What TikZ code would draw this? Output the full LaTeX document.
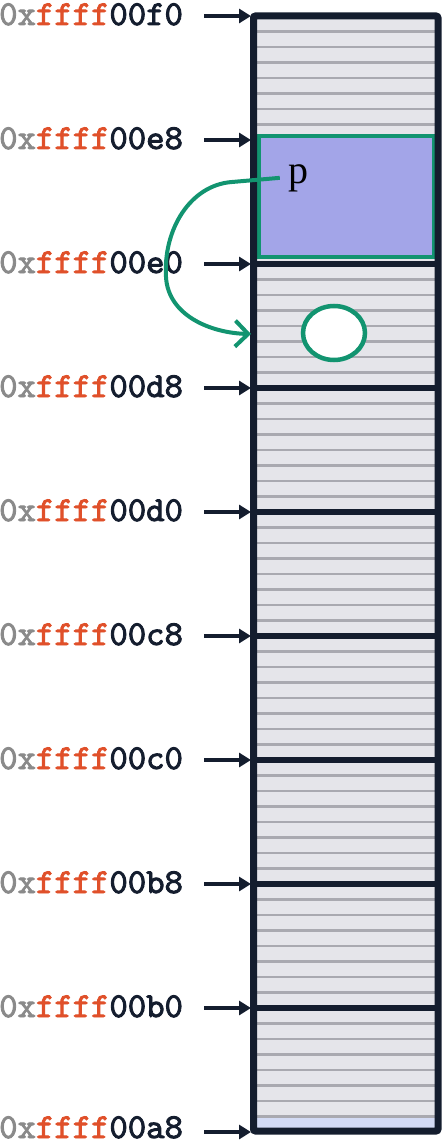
\documentclass[tikz,border=0pt]{standalone}
\usepackage{fontspec}
\setmainfont{Liberation Serif}
\newfontfamily\addrfont{lmmono10-regular.otf}[FakeBold=2.5]
\usetikzlibrary{arrows.meta,shapes.geometric}
\definecolor{navy}{HTML}{141D2E}
\definecolor{rowfill}{HTML}{E5E5EA}
\definecolor{rowline}{HTML}{A9A9B0}
\definecolor{grn}{HTML}{129470}
\definecolor{purp}{HTML}{A3A5E8}
\definecolor{lblue}{HTML}{D3DBF5}
\definecolor{hexgray}{HTML}{8A8A8A}
\definecolor{hexred}{HTML}{E0502A}
\tikzset{
  addr/.style={inner sep=0pt, text=navy, font=\addrfont\fontsize{35pt}{35pt}\selectfont},
  addrarrow/.style={navy, line width=4pt, -{Triangle[length=12pt,width=14pt]}},
  rowsep/.style={rowline, line width=2.5pt},
  wordsep/.style={navy, line width=6pt},
  greenline/.style={grn, line width=4pt},
}
\begin{document}
\begin{tikzpicture}[x=1pt,y=-1pt]
\useasboundingbox (0,0) rectangle (446,1142);
% memory column
\fill[rowfill] (254,16) rectangle (438,1131);
\fill[lblue] (254,1116.5) rectangle (438,1131);
\foreach \k in {1,...,71}{
  \pgfmathtruncatemacro\m{mod(\k,8)}
  \ifnum\m>0
    \draw[rowsep] (256,16+15.5*\k) -- (436,16+15.5*\k);
  \fi
}
\foreach \k in {1,...,8}{
  \draw[wordsep] (254,16+124*\k) -- (438,16+124*\k);
}
% highlighted word
\draw[greenline, fill=purp] (259,136) rectangle (434,256.5);
% outer border
\draw[navy, line width=7pt, rounded corners=2pt] (253.5,16) rectangle (438,1131);
% address labels
\foreach \s/\dy [count=\i from 0] in {f0/9,e8/9,e0/9,d8/9,d0/9,c8/9,c0/9,b8/9,b0/9,a8/6}{
  \pgfmathsetmacro\yy{16+124*\i}
  \node[addr, anchor=base west] (l\i) at (-1,\yy+\dy) {\textcolor{hexgray}{0x}\textcolor{hexred}{ffff}00\s};
  \coordinate (b\i) at (251,\yy);
  \draw[addrarrow] (204,\yy) -- (b\i);
}
% pointer
\node[inner sep=0pt, anchor=base, font=\fontsize{40pt}{40pt}\selectfont] (p) at (298,183) {p};
\node[ellipse, draw=grn, line width=4.5pt, fill=white, minimum width=62pt, minimum height=54pt, inner sep=0pt] (obj) at (334,333) {};
\coordinate (tgt) at (251,334);
\draw[greenline, -{Straight Barb[length=13pt,width=26pt]}]
  ([xshift=-8pt]p.west) -- (232,182) .. controls (190,185) and (163,230) .. (166,277)
  .. controls (168,315) and (210,333) .. (tgt);
\end{tikzpicture}
\end{document}
